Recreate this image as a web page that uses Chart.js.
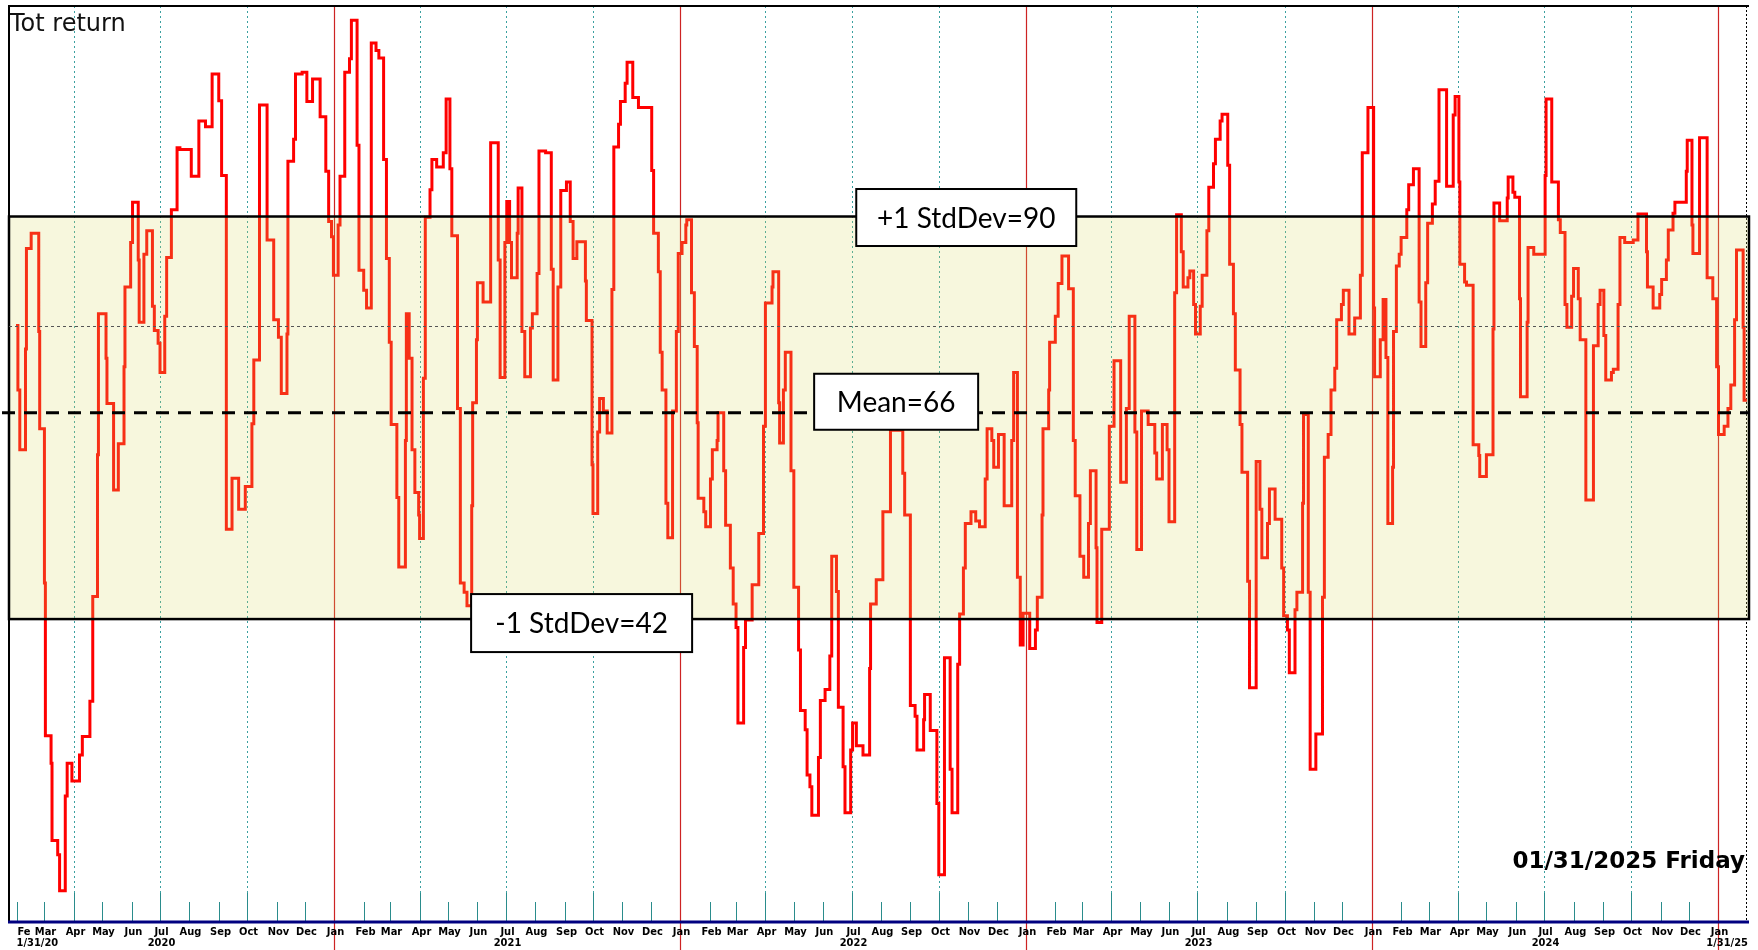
<!DOCTYPE html>
<html>
<head>
<meta charset="utf-8">
<script src="https://cdn.jsdelivr.net/npm/chart.js@4.4.1/dist/chart.umd.min.js"></script>
<style>
  html, body { margin: 0; padding: 0; background: #fff; }
</style>
</head>
<body>
<canvas id="totReturn" width="1758" height="950"></canvas>
<script>
// days after 01/31/2020 where each step starts
const days = [
  0, 2, 4, 10, 11, 16, 24, 25, 30, 31, 37, 38, 44, 46, 52, 54, 59, 67, 70, 78, 81, 86, 87, 95, 96, 103, 108, 114, 115, 121,
  123, 129, 130, 135, 138, 144, 146, 150, 152, 157, 159, 164, 170, 173, 185, 193, 200, 207, 214, 217, 222, 228, 235, 242, 249, 251, 257, 265, 272, 277,
  280, 286, 287, 293, 295, 302, 307, 313, 321, 327, 330, 333, 335, 340, 342, 347, 352, 354, 360, 362, 367, 370, 375, 380, 383, 388, 391, 394, 396, 402,
  404, 411, 412, 415, 418, 421, 425, 426, 430, 432, 437, 439, 444, 451, 454, 458, 460, 466, 469, 473, 476, 481, 482, 486, 487, 493, 501, 509, 511, 516,
  518, 521, 523, 529, 530, 534, 537, 543, 545, 550, 552, 559, 565, 567, 572, 575, 581, 585, 588, 592, 601, 602, 608, 609, 614, 616, 620, 624, 629, 631,
  636, 638, 643, 645, 651, 657, 671, 673, 678, 680, 682, 686, 688, 693, 697, 699, 703, 707, 708, 713, 716, 719, 720, 726, 728, 733, 735, 740, 741, 747,
  749, 754, 757, 760, 762, 768, 770, 777, 784, 789, 791, 798, 799, 805, 806, 810, 812, 818, 821, 826, 828, 833, 835, 838, 840, 847, 849, 854, 859, 861,
  866, 868, 873, 875, 881, 883, 887, 894, 901, 902, 908, 915, 923, 936, 938, 944, 949, 951, 958, 959, 965, 972, 974, 980, 986, 988, 994, 996, 1000, 1002,
  1008, 1013, 1017, 1023, 1025, 1030, 1032, 1037, 1043, 1051, 1053, 1057, 1060, 1063, 1070, 1076, 1078, 1083, 1084, 1090, 1091, 1097, 1100, 1104, 1111, 1116, 1118, 1123, 1127, 1132,
  1134, 1140, 1141, 1146, 1154, 1159, 1166, 1172, 1175, 1181, 1183, 1188, 1195, 1202, 1204, 1210, 1215, 1217, 1223, 1225, 1230, 1232, 1237, 1239, 1243, 1245, 1250, 1252, 1257, 1259,
  1264, 1266, 1271, 1273, 1279, 1281, 1285, 1287, 1292, 1294, 1300, 1302, 1309, 1313, 1315, 1321, 1323, 1329, 1336, 1338, 1342, 1344, 1350, 1352, 1358, 1359, 1364, 1366, 1372, 1379,
  1381, 1385, 1388, 1392, 1394, 1399, 1401, 1407, 1413, 1419, 1421, 1427, 1433, 1434, 1440, 1443, 1446, 1448, 1453, 1454, 1457, 1460, 1462, 1468, 1470, 1475, 1481, 1483, 1488, 1490,
  1495, 1498, 1502, 1510, 1517, 1519, 1523, 1524, 1529, 1531, 1538, 1544, 1545, 1552, 1559, 1560, 1566, 1574, 1575, 1580, 1582, 1587, 1588, 1595, 1596, 1602, 1614, 1615, 1621, 1628,
  1630, 1635, 1637, 1642, 1644, 1649, 1651, 1657, 1665, 1670, 1672, 1676, 1678, 1684, 1686, 1691, 1693, 1698, 1707, 1712, 1721, 1722, 1728, 1735, 1737, 1742, 1744, 1749, 1751, 1763,
  1764, 1769, 1770, 1777, 1785, 1791, 1795, 1797, 1803, 1807, 1810, 1814, 1816, 1823, 1824, 1827
];
const totReturn = [
  77, 69.3, 62.2, 74.2, 86.2, 88, 76.3, 64.7, 46.3, 28.1, 24.8, 15.6, 13.9, 9.6, 20.9, 24.8, 22.7, 25.8, 28, 32.2, 44.7, 61.6, 78.4, 73.1, 67.7, 57.4, 62.9, 72.1, 81.6, 86.9,
  91.7, 84.8, 77.4, 85.5, 88.3, 79.3, 76.4, 74.9, 71.4, 78.1, 85.1, 90.8, 98.2, 98, 94.8, 101.4, 100.7, 107, 103.8, 94.9, 52.7, 58.8, 55.1, 57.8, 65.3, 72.9, 103.3, 87.2, 77.7, 75.6,
  68.9, 76, 96.6, 99.2, 107, 107.2, 103.7, 106.4, 101.9, 95.4, 89.4, 87.6, 83, 89, 94.8, 107.2, 108.8, 113.4, 98.5, 83.6, 81.2, 79.1, 110.7, 109.8, 108.9, 96.8, 85, 75, 65.2, 56.5,
  48.2, 63.3, 78.4, 73.1, 62.2, 57.1, 54.4, 51.6, 70.7, 89.9, 93.2, 96.8, 95.9, 97.6, 104, 95.7, 87.7, 67.1, 46.3, 45.2, 43.6, 55.5, 67.8, 75.3, 82.1, 79.8, 98.8, 84.8, 70.8, 86.9,
  91.8, 86.9, 82.7, 88, 93.4, 76.3, 70.9, 76.7, 78.4, 83.2, 97.8, 97.6, 83.7, 70.5, 81.6, 93.1, 94.1, 89.4, 85, 87, 82.3, 77.6, 60.4, 54.6, 64.3, 68.3, 66.8, 64.2, 81.3, 98.3,
  101, 103.7, 105.9, 108.4, 104.2, 103, 95.5, 88, 83.4, 73.8, 69.3, 55.8, 51.7, 66.8, 76.3, 85.6, 86.9, 89, 89.6, 80.9, 74.5, 65.4, 56.4, 54.8, 53, 58.7, 62.2, 63.3, 66.6, 59.7,
  53.2, 48.1, 43.8, 41, 29.6, 38.6, 41.9, 46.1, 52.2, 65, 79.7, 81.6, 83.4, 67.8, 63, 69.3, 73.8, 59.7, 45.8, 38.3, 31.1, 28.8, 23.4, 22, 18.6, 25.5, 32.3, 33.6, 37.6, 49.5,
  45.3, 31.5, 24.4, 18.9, 26.4, 29.6, 26.9, 25.8, 36.1, 43.8, 46.7, 54.8, 64.5, 59.4, 54.4, 31.7, 30.4, 26.4, 30, 33, 28.7, 20, 11.5, 37.4, 24.1, 18.9, 36.6, 42.6, 48.1, 53.4,
  54.8, 53.7, 53, 58.7, 64.7, 63.3, 60.1, 64, 55.5, 63.3, 71.4, 47, 38.9, 42.7, 38.5, 40.7, 44.6, 54.4, 64.7, 69.3, 75, 78.1, 82, 85.3, 81.4, 63.3, 56.7, 49.5, 47, 53.4,
  59.7, 50.5, 41.6, 52.7, 65, 72.8, 58.3, 67.1, 78.1, 64.3, 50.3, 66.8, 65.2, 61.8, 58.7, 65.2, 62.2, 53.6, 80.9, 90.2, 85.8, 81.6, 82.7, 83.5, 79.5, 76, 79.3, 83, 88.3, 93.5,
  96.3, 99.2, 101.4, 102.2, 96.1, 84.3, 78.4, 71.7, 65.2, 59.5, 46.5, 33.8, 60.8, 55.1, 49.3, 53.4, 57.5, 53.9, 48.1, 42.4, 40.7, 35.6, 43.1, 45.2, 55.8, 66.4, 45.2, 24.1, 28.3, 44.6,
  61.3, 64, 69.3, 71.9, 77.7, 79.5, 81.2, 76, 77.9, 83, 97.6, 103, 79.1, 70.9, 75.3, 80.1, 73.2, 53.4, 60.1, 76.3, 84.1, 85.5, 87.5, 90.8, 93.8, 95.7, 79.8, 74.5, 82.1, 89.2,
  91.5, 94.2, 105.1, 93.6, 102.1, 104.3, 94.1, 84.3, 82.2, 81.8, 62.8, 61.5, 59, 61.6, 76.6, 91.6, 89.5, 92.2, 94.7, 92.9, 92.3, 80.2, 68.5, 77.4, 86.3, 85.5, 94.9, 104, 94.1, 89.6,
  88.1, 79.5, 76.8, 80.5, 83.8, 80.2, 75.3, 56.2, 74.6, 79.5, 81.2, 75.8, 70.5, 71.4, 71.8, 79.5, 87.5, 86.9, 87.2, 90.3, 85.8, 81.6, 79.1, 80.7, 82.5, 84.8, 88.4, 90.4, 91.7, 95.4,
  99.1, 89, 85.6, 99.4, 82.7, 80.2, 72.1, 64, 65, 67.1, 69.9, 77.7, 86, 76.8, 68.1, 68.1
];

const meanLevel = 66.6;
const highLevel = 90;
const lowLevel = 42;
const lastLevel = 77;
const bandLabels = ['+1 StdDev=90', 'Mean=66', '-1 StdDev=42'];
const monthNames = ['Jan', 'Feb', 'Mar', 'Apr', 'May', 'Jun', 'Jul', 'Aug', 'Sep', 'Oct', 'Nov', 'Dec'];
const yearLabels = ['2020', '2021', '2022', '2023', '2024'];
const firstLabel = '1/31/20';
const lastLabel = '1/31/25';
const title = 'Tot return';
const dateText = '01/31/2025 Friday';

const dayMs = 86400000;
const start = Date.UTC(2020, 0, 31);

const points = days.map((d, i) => ({ x: d, y: totReturn[i] }));

const drawBox = (ctx, text, cx, cy, w, h) => {
    ctx.save();
    ctx.fillStyle = '#ffffff';
    ctx.fillRect(cx - w / 2, cy - h / 2, w, h);
    ctx.strokeStyle = '#000';
    ctx.lineWidth = 2;
    ctx.strokeRect(cx - w / 2, cy - h / 2, w, h);
    ctx.fillStyle = '#000';
    ctx.font = '28px Lato';
    ctx.textAlign = 'center';
    ctx.textBaseline = 'middle';
    ctx.fillText(text, cx, cy + 1);
    ctx.restore();
};

const backdrop = {
    id: 'backdrop',
    beforeDatasetsDraw(chart) {
        const { ctx, chartArea: a, scales: { x } } = chart;
        ctx.save();
        // month ticks, quarter grid, january lines
        for (let m = 1; m <= 60; m++) {
            const d = (Date.UTC(2020, m, 1) - start) / dayMs;
            const px = Math.round(x.getPixelForValue(d)) + 0.5;
            const mon = m % 12;
            if (mon === 0) {
                ctx.strokeStyle = 'rgb(205,35,35)';
                ctx.lineWidth = 1.2;
                ctx.setLineDash([]);
                ctx.beginPath(); ctx.moveTo(px, a.top); ctx.lineTo(px, 950); ctx.stroke();
            } else {
                if (mon % 3 === 0) {
                    ctx.strokeStyle = '#3aa0a0';
                    ctx.lineWidth = 1;
                    ctx.setLineDash([2, 3]);
                    ctx.beginPath(); ctx.moveTo(px, a.top); ctx.lineTo(px, a.bottom - 26); ctx.stroke();
                }
                ctx.setLineDash([]);
                ctx.strokeStyle = '#2a8c8c';
                ctx.lineWidth = 1;
                ctx.beginPath(); ctx.moveTo(px, a.bottom - (mon % 3 === 0 ? 28 : 19)); ctx.lineTo(px, a.bottom); ctx.stroke();
            }
            // labels
            ctx.fillStyle = '#000';
            ctx.font = 'bold 11px "Liberation Sans Narrow", "Arial Narrow", "DejaVu Sans Condensed", "DejaVu Sans", sans-serif';
            ctx.textBaseline = 'middle';
            if (m === 1) {
                ctx.textAlign = 'left';
                ctx.fillText('Fe', px, a.bottom + 11);
                ctx.fillText(firstLabel, px - 1, a.bottom + 22);
            } else {
                ctx.textAlign = 'center';
                ctx.fillText(monthNames[mon], px + 1, a.bottom + 11);
                if (mon === 6) ctx.fillText(yearLabels[Math.floor(m / 12)], px + 1, a.bottom + 22);
            }
            if (m === 60) {
                ctx.textAlign = 'right';
                ctx.fillText(lastLabel, a.right - 1, a.bottom + 22);
            }
        }
        // frame
        ctx.strokeStyle = '#000';
        ctx.lineWidth = 2;
        ctx.beginPath();
        ctx.moveTo(a.left, a.bottom); ctx.lineTo(a.left, a.top); ctx.lineTo(a.right, a.top);
        ctx.stroke();
        ctx.lineWidth = 1;
        ctx.setLineDash([2, 2]);
        ctx.beginPath(); ctx.moveTo(a.right - 2.5, a.top); ctx.lineTo(a.right - 2.5, a.bottom); ctx.stroke();
        ctx.setLineDash([]);
        // axis line
        ctx.strokeStyle = '#000080';
        ctx.lineWidth = 3;
        ctx.beginPath(); ctx.moveTo(a.left - 1, a.bottom + 1); ctx.lineTo(a.right, a.bottom + 1); ctx.stroke();
        ctx.fillStyle = '#111';
        ctx.font = '24px "DejaVu Sans"';
        ctx.textAlign = 'left';
        ctx.textBaseline = 'alphabetic';
        ctx.fillText(title, a.left + 1, 31);
        ctx.restore();
    },
    afterDatasetsDraw(chart) {
        const { ctx, chartArea: a, scales: { x, y } } = chart;
        const yHigh = y.getPixelForValue(highLevel);
        const yLow = y.getPixelForValue(lowLevel);
        const yMean = y.getPixelForValue(meanLevel);
        const yLast = y.getPixelForValue(lastLevel);
        ctx.save();
        ctx.fillStyle = 'rgba(220,220,100,0.22)';
        ctx.fillRect(a.left, yHigh, a.right - a.left, yLow - yHigh);
        ctx.strokeStyle = '#000';
        ctx.lineWidth = 2.5;
        ctx.strokeRect(a.left, yHigh, a.right - a.left, yLow - yHigh);
        // last value dotted line
        ctx.strokeStyle = '#555';
        ctx.lineWidth = 1;
        ctx.setLineDash([3, 3]);
        ctx.beginPath(); ctx.moveTo(a.left, Math.round(yLast) + 0.5); ctx.lineTo(a.right, Math.round(yLast) + 0.5); ctx.stroke();
        // mean line
        ctx.strokeStyle = '#000';
        ctx.lineWidth = 3;
        ctx.setLineDash([13, 9]);
        ctx.beginPath(); ctx.moveTo(2, yMean); ctx.lineTo(a.right, yMean); ctx.stroke();
        ctx.setLineDash([]);
        ctx.restore();

        drawBox(ctx, bandLabels[0], x.getPixelForValue(1003), yHigh + 1, 220, 57);
        drawBox(ctx, bandLabels[1], x.getPixelForValue(929), yMean - 11, 164, 56);
        drawBox(ctx, bandLabels[2], x.getPixelForValue(597), yLow + 4, 221, 58);

        ctx.save();
        ctx.fillStyle = '#000';
        ctx.font = 'bold 23px "DejaVu Sans"';
        ctx.textAlign = 'right';
        ctx.textBaseline = 'alphabetic';
        ctx.fillText(dateText, a.right - 4, 868);
        ctx.restore();
    }
};

new Chart(document.getElementById('totReturn'), {
    type: 'line',
    data: {
        datasets: [{
            label: title,
            data: points,
            borderColor: '#ff0000',
            borderWidth: 3,
            stepped: true,
            pointRadius: 0,
            fill: false
        }]
    },
    options: {
        responsive: false,
        animation: false,
        events: [],
        layout: { padding: { left: 9, right: 9, top: 6, bottom: 29 } },
        plugins: { legend: { display: false }, tooltip: { enabled: false } },
        scales: {
            x: { type: 'linear', display: false, min: -7.4, max: 1829.2 },
            y: { display: false, min: 6, max: 115.1 }
        }
    },
    plugins: [backdrop]
});
</script>
</body>
</html>
